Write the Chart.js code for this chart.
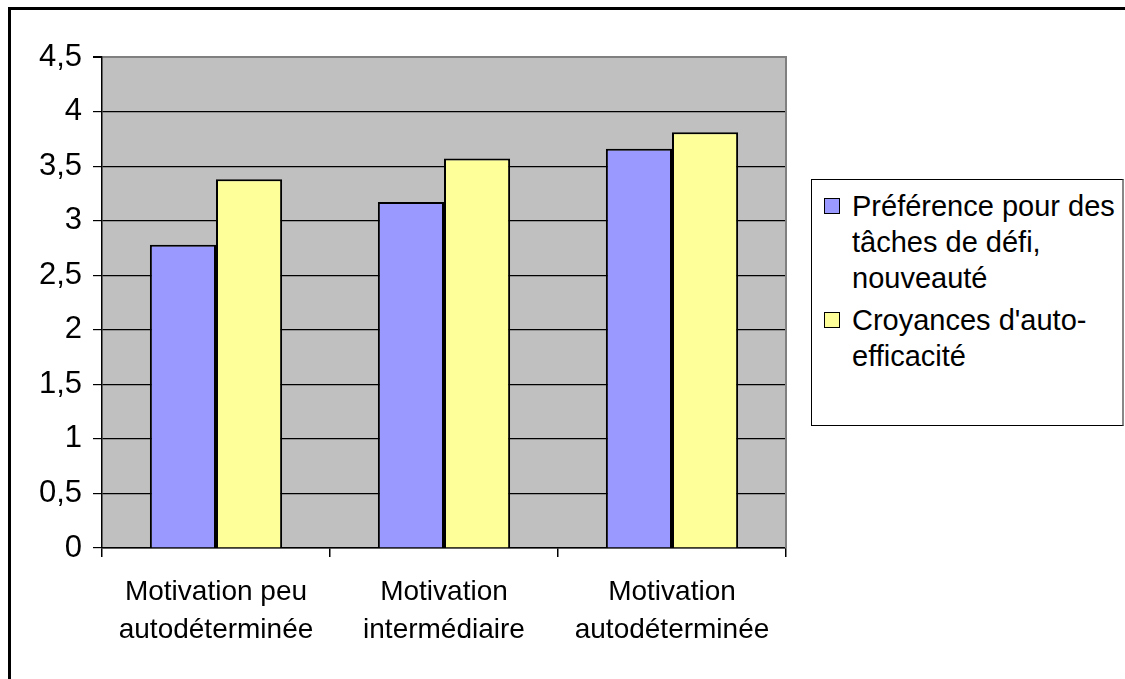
<!DOCTYPE html>
<html lang="fr">
<head>
    <meta charset="UTF-8">
    <title>Motivation</title>
    <style>
        body {
            margin: 0;
            width: 1125px;
            height: 679px;
            position: relative;
            overflow: hidden;
            background: #fff;
            font-family: "Liberation Sans", Arial, sans-serif;
        }
        #chartCanvas {
            position: absolute;
            left: 0;
            top: 0;
        }
        #frame {
            position: absolute;
            left: 8px;
            top: 7px;
            right: -10px;
            bottom: -10px;
            border-top: 3px solid #000;
            border-left: 3px solid #000;
            pointer-events: none;
        }
        #legend {
            position: absolute;
            left: 811px;
            top: 179px;
            width: 310px;
            height: 245px;
            border: 1px solid #000;
            border-right: 2px solid #888;
            background: #fff;
            font-size: 29px;
            line-height: 36px;
            color: #000;
        }
        .item {
            position: relative;
            padding-left: 40px;
        }
        .item .box {
            position: absolute;
            left: 12px;
            top: 10px;
            width: 14px;
            height: 14px;
            border: 1px solid #000;
        }
    </style>
    <script src="https://cdn.jsdelivr.net/npm/chart.js"></script>
</head>
<body>
    <canvas id="chartCanvas" width="1125" height="679"></canvas>
    <div id="frame"></div>
    <div id="legend"></div>
    <script>
        const categories = [
            ['Motivation peu', 'autodéterminée'],
            ['Motivation', 'intermédiaire'],
            ['Motivation', 'autodéterminée']
        ];
        const seriesNames = [
            ['Préférence pour des', 'tâches de défi,', 'nouveauté'],
            ["Croyances d'auto-", 'efficacité']
        ];
        const preferenceValues = [2.78, 3.17, 3.66];
        const croyanceValues = [3.38, 3.57, 3.81];
        const seriesColors = ['#9999FF', '#FFFF99'];

        const fontFamily = '"Liberation Sans", Arial, sans-serif';

        // fond gris de la zone de tracé + bord droit
        const plotArea = {
            id: 'plotArea',
            beforeDraw(chart) {
                const a = chart.chartArea;
                const c = chart.ctx;
                c.save();
                c.fillStyle = '#C0C0C0';
                c.fillRect(a.left, a.top, a.right - a.left, a.bottom - a.top);
                c.restore();
            },
            afterDraw(chart) {
                const a = chart.chartArea;
                const c = chart.ctx;
                c.save();
                c.strokeStyle = '#808080';
                c.lineWidth = 2;
                c.beginPath();
                c.moveTo(a.right, a.top - 1);
                c.lineTo(a.right, a.bottom);
                c.stroke();
                c.restore();
            }
        };

        const ctx = document.getElementById('chartCanvas').getContext('2d');

        const chart = new Chart(ctx, {
            type: 'bar',
            data: {
                labels: categories,
                datasets: [
                    {
                        label: seriesNames[0].join(' '),
                        data: preferenceValues,
                        backgroundColor: seriesColors[0],
                        borderColor: '#000',
                        borderWidth: 2
                    },
                    {
                        label: seriesNames[1].join(' '),
                        data: croyanceValues,
                        backgroundColor: seriesColors[1],
                        borderColor: '#000',
                        borderWidth: 2
                    }
                ]
            },
            options: {
                responsive: false,
                animation: false,
                layout: {
                    padding: { left: 0, top: 57, right: 339, bottom: 0 }
                },
                datasets: {
                    bar: {
                        categoryPercentage: 0.58,
                        barPercentage: 1
                    }
                },
                plugins: {
                    legend: { display: false },
                    tooltip: { enabled: false }
                },
                scales: {
                    x: {
                        afterFit: (scale) => { scale.height = 131; },
                        grid: {
                            offset: true,
                            drawOnChartArea: false,
                            drawTicks: true,
                            tickLength: 9,
                            color: '#000',
                            lineWidth: 1.5
                        },
                        border: { color: '#000', width: 1.5 },
                        ticks: {
                            color: '#000',
                            padding: 16,
                            maxRotation: 0,
                            autoSkip: false,
                            font: { family: fontFamily, size: 28, lineHeight: '38px' }
                        }
                    },
                    y: {
                        min: 0,
                        max: 4.5,
                        afterFit: (scale) => { scale.width = 102; },
                        grid: {
                            color: (c) => c.tick && c.tick.value === 4.5 ? '#808080' : '#000',
                            lineWidth: (c) => c.tick && c.tick.value === 4.5 ? 2 : 1.2,
                            tickColor: '#000',
                            tickLength: 9
                        },
                        border: { color: '#000', width: 1.5 },
                        ticks: {
                            stepSize: 0.5,
                            color: '#000',
                            padding: 11,
                            font: { family: fontFamily, size: 31 },
                            callback: (v) => String(v).replace('.', ',')
                        }
                    }
                }
            },
            plugins: [plotArea]
        });

        // légende à droite, construite à partir des séries
        const legend = document.getElementById('legend');
        seriesNames.forEach((lines, i) => {
            const item = document.createElement('div');
            item.className = 'item';
            item.style.marginTop = i === 0 ? '8px' : '6px';
            const box = document.createElement('span');
            box.className = 'box';
            box.style.background = seriesColors[i];
            item.appendChild(box);
            item.insertAdjacentHTML('beforeend', lines.join('<br>'));
            legend.appendChild(item);
        });
    </script>
</body>
</html>
